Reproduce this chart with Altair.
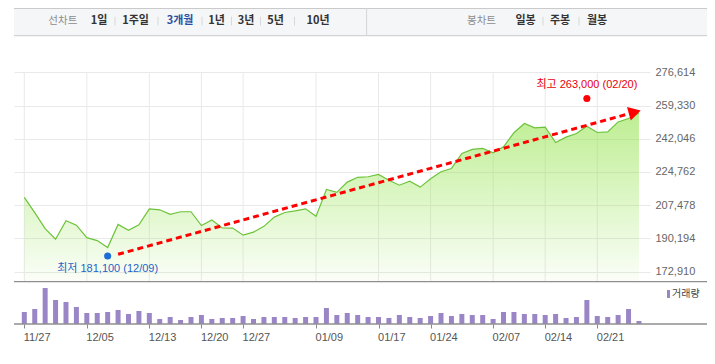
import altair as alt
import pandas as pd

# ---------------- data ----------------
price = [211600, 203600, 195300, 189800, 199400, 197100, 190600, 189100, 185500, 197500,
         194400, 197300, 205600, 205100, 202700, 204100, 204100, 196900, 199800, 195700,
         195600, 191900, 193500, 196500, 201300, 203700, 204500, 205600, 201700, 215700,
         214200, 219500, 222000, 222300, 223500, 220500, 217900, 220000, 216900, 221200,
         224900, 226600, 234400, 236500, 237000, 234700, 237900, 245200, 250000, 247700,
         248100, 240100, 242900, 244800, 248600, 245300, 245600, 250800, 252600, 255500]

volume = [360000, 450000, 1080000, 720000, 660000, 510000, 330000, 330000, 360000, 420000,
          300000, 390000, 330000, 150000, 210000, 120000, 210000, 270000, 150000, 180000,
          180000, 240000, 150000, 210000, 210000, 210000, 180000, 210000, 210000, 480000,
          270000, 330000, 270000, 210000, 210000, 180000, 270000, 210000, 180000, 240000,
          330000, 240000, 300000, 270000, 270000, 150000, 360000, 360000, 300000, 300000,
          270000, 300000, 180000, 210000, 720000, 240000, 210000, 270000, 450000, 90000]

tick_idx = [0, 6, 12, 17, 21, 28, 34, 39, 45, 50, 55]
tick_labels = ["11/27", "12/05", "12/13", "12/20", "12/27", "01/09",
               "01/17", "01/24", "02/07", "02/14", "02/21"]
price_ticks = [172910, 190194, 207478, 224762, 242046, 259330, 276614]

low_idx, low_val, low_date = 8, 181100, "12/09"
high_idx, high_val, high_date = 54, 263000, "02/20"

trend_idx = [9.0, 58.6]
trend_val = [181950, 255900]

line_tabs = ["1일", "1주일", "3개월", "1년", "3년", "5년", "10년"]
candle_tabs = ["일봉", "주봉", "월봉"]
selected_tab = "3개월"
legend_label = "거래량"

# ---------------- layout ----------------
W, H = 636, 316
RIGHT_EDGE = 693
X_DOMAIN = [-0.99, 60.06]
P_DOMAIN = [167709, 276614]
P_RANGE = [273.7, 64.3]
V_DOMAIN = [0, 1270000]
V_RANGE = [316, 273.7]
SEP_Y = 273.7
FONT_NUM = "Liberation Sans, Noto Sans CJK KR"
FONT_KR = "Noto Sans CJK KR"

df = pd.DataFrame({"i": list(range(len(price))), "v": price, "vol": volume})
ticks_df = pd.DataFrame({"i": tick_idx})
trend_df = pd.DataFrame({"i": trend_idx, "v": trend_val})
arrow_df = trend_df.tail(1)
low_df = pd.DataFrame({"i": [low_idx], "v": [low_val],
                       "t": [f"최저 {low_val:,} ({low_date})"]})
high_df = pd.DataFrame({"i": [high_idx], "v": [high_val],
                        "t": [f"최고 {high_val:,} ({high_date})"]})
one = pd.DataFrame({"a": [0]})

label_expr = "[" + ",".join(f"'{t}'" for t in tick_labels) + "][indexof([" + \
    ",".join(str(t) for t in tick_idx) + "], datum.value)]"

x_axis = alt.Axis(values=tick_idx, labelExpr=label_expr, title=None, grid=False,
                  domain=False, ticks=True, tickSize=4, tickColor="#8a8a8a",
                  labelAlign="left", labelOffset=-1, labelPadding=3,
                  labelFont=FONT_NUM, labelFontSize=11, labelColor="#555555",
                  labelOverlap=False, labelFlush=False)


def X(field="i"):
    return alt.X(f"{field}:Q", scale=alt.Scale(domain=X_DOMAIN, nice=False, zero=False,
                                                padding=0),
                 axis=x_axis)


y_axis = alt.Axis(orient="right", values=price_ticks, format=",d", title=None,
                  grid=True, gridColor="#e9e9e9", gridWidth=1, domain=False,
                  ticks=False, labelPadding=5, labelFont=FONT_NUM, labelFontSize=11,
                  labelColor="#666666", labelOverlap=False, labelFlush=False)


def YP(field="v"):
    return alt.Y(f"{field}:Q", scale=alt.Scale(domain=P_DOMAIN, range=P_RANGE,
                                                nice=False, zero=False),
                 axis=y_axis)


# ---------------- header (tab bar) ----------------
hdr = []
hdr.append(alt.Chart(one).mark_rect(color="#f5f6f8").encode(
    x=alt.value(0), x2=alt.value(RIGHT_EDGE), y=alt.value(0), y2=alt.value(27.7)))
for yy in (0.5, 27.7):
    hdr.append(alt.Chart(one).mark_rule(color="#cacaca", strokeWidth=1).encode(
        x=alt.value(0), x2=alt.value(RIGHT_EDGE), y=alt.value(yy)))
hdr.append(alt.Chart(one).mark_rule(color="#d4d4d4", strokeWidth=1).encode(
    x=alt.value(352.6), y=alt.value(0), y2=alt.value(27.7)))

line_tab_x = [85, 121.5, 166, 202.5, 232, 261.5, 304]
line_sep_x = [101, 144, 188, 217.5, 246.5, 280.5]
candle_tab_x = [511.5, 546, 583]
candle_sep_x = [529, 565]
TY = 12.7

hdr.append(alt.Chart(one).mark_text(font=FONT_KR, fontSize=10.5, color="#8c8c8c").encode(
    x=alt.value(48.8), y=alt.value(TY), text=alt.value("선차트")))
hdr.append(alt.Chart(one).mark_text(font=FONT_KR, fontSize=10.5, color="#8c8c8c").encode(
    x=alt.value(467.5), y=alt.value(TY), text=alt.value("봉차트")))
for lbl, xx in list(zip(line_tabs, line_tab_x)) + list(zip(candle_tabs, candle_tab_x)):
    col = "#2c4fa3" if lbl == selected_tab else "#333333"
    hdr.append(alt.Chart(one).mark_text(font=FONT_KR, fontSize=11, fontWeight="bold",
                                        color=col).encode(
        x=alt.value(xx), y=alt.value(TY), text=alt.value(lbl)))
for xx in line_sep_x + candle_sep_x:
    hdr.append(alt.Chart(one).mark_rule(color="#d8d8d8", strokeWidth=1).encode(
        x=alt.value(xx), y=alt.value(8.7), y2=alt.value(17.5)))

# ---------------- price panel ----------------
vgrid = alt.Chart(ticks_df).mark_rule(color="#e9e9e9", strokeWidth=1).encode(
    x=X(), y=alt.value(P_RANGE[1]), y2=alt.value(SEP_Y))

grad = alt.Gradient(gradient="linear",
                    stops=[alt.GradientStop(color="rgba(150,228,80,0.62)", offset=0),
                           alt.GradientStop(color="rgba(150,228,80,0.04)", offset=1)],
                    x1=1, x2=1, y1=0, y2=1)

area = alt.Chart(df).mark_area(color=grad).encode(x=X(), y=YP(), y2=alt.datum(P_DOMAIN[0]))
line = alt.Chart(df).mark_line(color="#6cc33a", strokeWidth=1.2).encode(x=X(), y=YP())

trend = alt.Chart(trend_df).mark_line(color="#ff0000", strokeWidth=3,
                                      strokeDash=[6, 4]).encode(x=X(), y=YP())
arrow = alt.Chart(arrow_df).mark_point(shape="triangle-right", filled=True, size=200,
                                       angle=344.6, color="#ff0000", opacity=1).encode(
    x=X(), y=YP())

low_pt = alt.Chart(low_df).mark_circle(size=50, color="#1c6ed6", opacity=1).encode(x=X(), y=YP())
low_tx = alt.Chart(low_df).mark_text(dy=13, font=FONT_NUM, fontSize=11,
                                     color="#1f62c8").encode(x=X(), y=YP(), text="t:N")
high_pt = alt.Chart(high_df).mark_circle(size=50, color="#ff0000", opacity=1).encode(x=X(), y=YP())
high_tx = alt.Chart(high_df).mark_text(dy=-13, font=FONT_NUM, fontSize=11,
                                       color="#e8000b").encode(x=X(), y=YP(), text="t:N")

price_layer = alt.layer(vgrid, area, line, trend, arrow, low_pt, low_tx, high_pt, high_tx)

# ---------------- volume panel ----------------
bars = alt.Chart(df).mark_bar(color="#9a86c6", size=5).encode(
    x=X(), y=alt.Y("vol:Q", scale=alt.Scale(domain=V_DOMAIN, range=V_RANGE), axis=None))
vol_layer = alt.layer(bars)

frame = [
    alt.Chart(one).mark_rule(color="#8f8f8f", strokeWidth=1.3).encode(
        x=alt.value(0), x2=alt.value(RIGHT_EDGE), y=alt.value(SEP_Y)),
    alt.Chart(one).mark_rule(color="#8f8f8f", strokeWidth=1.3).encode(
        x=alt.value(0), x2=alt.value(RIGHT_EDGE), y=alt.value(316)),
    alt.Chart(one).mark_rect(color="#9a86c6").encode(
        x=alt.value(653), x2=alt.value(656), y=alt.value(282), y2=alt.value(290)),
    alt.Chart(one).mark_text(font=FONT_KR, fontSize=10, color="#444444", align="left",
                             baseline="middle").encode(
        x=alt.value(658), y=alt.value(286), text=alt.value(legend_label)),
]

chart = alt.layer(*hdr, price_layer, vol_layer, *frame).resolve_scale(
    y="independent"
).properties(
    width=W, height=H,
    autosize=alt.AutoSizeParams(type="none"),
    padding={"left": 6, "top": 0, "right": 57, "bottom": 22},
).configure_view(strokeWidth=0)

chart.save("out.html", embed_options={"renderer": "svg", "actions": False})
